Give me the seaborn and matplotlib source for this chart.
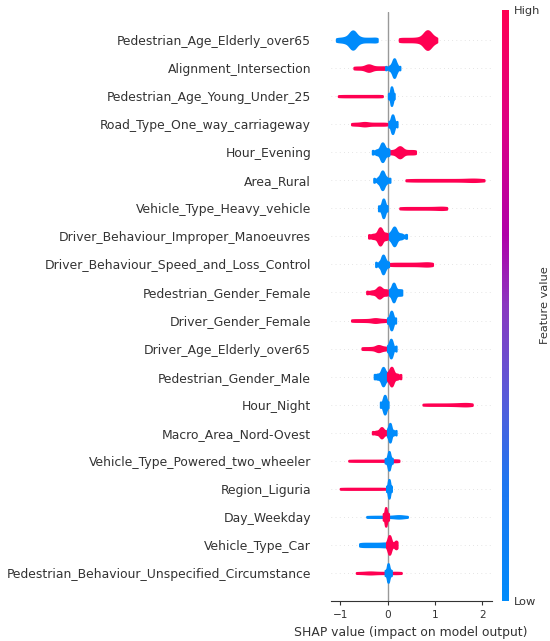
import numpy as np
import pandas as pd
import seaborn as sns
import matplotlib.pyplot as plt
from matplotlib.collections import PolyCollection
from matplotlib.colors import LinearSegmentedColormap, Normalize
from matplotlib.cm import ScalarMappable

# Features, top to bottom
features = [
    "Pedestrian_Age_Elderly_over65",
    "Alignment_Intersection",
    "Pedestrian_Age_Young_Under_25",
    "Road_Type_One_way_carriageway",
    "Hour_Evening",
    "Area_Rural",
    "Vehicle_Type_Heavy_vehicle",
    "Driver_Behaviour_Improper_Manoeuvres",
    "Driver_Behaviour_Speed_and_Loss_Control",
    "Pedestrian_Gender_Female",
    "Driver_Gender_Female",
    "Driver_Age_Elderly_over65",
    "Pedestrian_Gender_Male",
    "Hour_Night",
    "Macro_Area_Nord-Ovest",
    "Vehicle_Type_Powered_two_wheeler",
    "Region_Liguria",
    "Day_Weekday",
    "Vehicle_Type_Car",
    "Pedestrian_Behaviour_Unspecified_Circumstance",
]

# SHAP values, for low (=0) feature values
shap_low = [
    [-1.08, -1.02, -0.96, -0.91, -0.87, -0.84, -0.81, -0.79, -0.77, -0.76, -0.75, -0.74, -0.74,
     -0.73, -0.73, -0.72, -0.71, -0.7, -0.68, -0.66, -0.63, -0.6, -0.56, -0.5, -0.44, -0.38,
     -0.32, -0.26, -0.22],
    [-0.04, 0.04, 0.08, 0.1, 0.12, 0.13, 0.14, 0.14, 0.15, 0.16, 0.18, 0.2, 0.26],
    [0.02, 0.05, 0.07, 0.08, 0.08, 0.09, 0.1, 0.11, 0.14],
    [0.03, 0.07, 0.09, 0.1, 0.11, 0.12, 0.14, 0.2],
    [-0.32, -0.24, -0.19, -0.15, -0.13, -0.12, -0.11, -0.1, -0.09, -0.07, -0.04, 0.0, 0.03],
    [-0.29, -0.2, -0.16, -0.13, -0.12, -0.11, -0.1, -0.09, -0.06, -0.02, 0.05],
    [-0.19, -0.14, -0.11, -0.1, -0.09, -0.08, -0.07, -0.05, -0.01],
    [0.04, 0.08, 0.11, 0.13, 0.14, 0.15, 0.16, 0.19, 0.24, 0.3, 0.4],
    [-0.25, -0.17, -0.13, -0.11, -0.1, -0.09, -0.08, -0.06, -0.03, 0.02],
    [0.04, 0.08, 0.11, 0.12, 0.13, 0.14, 0.16, 0.2, 0.25, 0.3],
    [0.0, 0.04, 0.06, 0.07, 0.08, 0.09, 0.1, 0.12, 0.17],
    [0.0, 0.03, 0.05, 0.06, 0.07, 0.08, 0.09, 0.11, 0.18],
    [-0.28, -0.22, -0.17, -0.13, -0.11, -0.1, -0.09, -0.08, -0.06, -0.03, 0.0],
    [-0.15, -0.1, -0.08, -0.07, -0.06, -0.05, -0.04, -0.02, 0.01],
    [0.0, 0.02, 0.04, 0.05, 0.05, 0.06, 0.08, 0.12, 0.18],
    [-0.05, -0.01, 0.01, 0.02, 0.03, 0.03, 0.04, 0.05, 0.07, 0.1],
    [-0.02, 0.01, 0.02, 0.03, 0.03, 0.04, 0.05, 0.08],
    [-0.44, -0.37, -0.3, -0.24, -0.18, -0.12, -0.06, 0.0, 0.06, 0.12, 0.16, 0.19, 0.22, 0.24,
     0.26, 0.28, 0.31, 0.36, 0.42],
    [-0.59, -0.52, -0.45, -0.38, -0.31, -0.24, -0.17, -0.1, -0.04, 0.0],
    [-0.05, -0.02, 0.0, 0.01, 0.01, 0.02, 0.03, 0.05, 0.08],
]

# SHAP values for high (=1) feature values
shap_high = [
    [0.25, 0.33, 0.41, 0.49, 0.57, 0.64, 0.7, 0.74, 0.77, 0.79, 0.81, 0.82, 0.83, 0.84, 0.85,
     0.86, 0.87, 0.88, 0.9, 0.92, 0.95, 0.99, 1.04],
    [-0.71, -0.64, -0.57, -0.5, -0.46, -0.43, -0.41, -0.4, -0.39, -0.37, -0.34, -0.3, -0.24,
     -0.18, -0.12, -0.06, -0.01],
    [-1.04, -0.98, -0.92, -0.86, -0.8, -0.74, -0.68, -0.62, -0.56, -0.5, -0.44, -0.38, -0.32,
     -0.26, -0.2, -0.15, -0.11],
    [-0.76, -0.7, -0.64, -0.58, -0.53, -0.5, -0.48, -0.46, -0.42, -0.36, -0.3, -0.24, -0.18,
     -0.12, -0.06, -0.01],
    [0.0, 0.08, 0.15, 0.2, 0.23, 0.25, 0.26, 0.27, 0.29, 0.32, 0.38, 0.45, 0.52, 0.59],
    [0.39, 0.47, 0.55, 0.63, 0.71, 0.79, 0.87, 0.95, 1.03, 1.11, 1.19, 1.27, 1.35, 1.43, 1.51,
     1.59, 1.67, 1.73, 1.78, 1.82, 1.86, 1.9, 1.95, 2.04],
    [0.26, 0.33, 0.4, 0.47, 0.54, 0.61, 0.68, 0.75, 0.82, 0.89, 0.96, 1.02, 1.08, 1.13, 1.17,
     1.21, 1.25],
    [-0.4, -0.32, -0.26, -0.21, -0.18, -0.17, -0.16, -0.15, -0.14, -0.12, -0.08, -0.04, 0.0],
    [0.02, 0.09, 0.16, 0.23, 0.3, 0.37, 0.44, 0.51, 0.58, 0.65, 0.71, 0.77, 0.82, 0.86, 0.9, 0.95],
    [-0.44, -0.34, -0.27, -0.22, -0.19, -0.18, -0.17, -0.15, -0.12, -0.08, -0.03, 0.0],
    [-0.76, -0.68, -0.6, -0.52, -0.45, -0.38, -0.32, -0.28, -0.26, -0.24, -0.2, -0.14, -0.08, -0.02],
    [-0.54, -0.46, -0.38, -0.31, -0.25, -0.22, -0.2, -0.19, -0.17, -0.14, -0.1, -0.05, 0.0],
    [0.0, 0.03, 0.05, 0.07, 0.08, 0.09, 0.1, 0.12, 0.16, 0.21, 0.28],
    [0.75, 0.82, 0.89, 0.96, 1.03, 1.1, 1.17, 1.24, 1.31, 1.37, 1.43, 1.48, 1.53, 1.57, 1.61,
     1.65, 1.68, 1.71, 1.74, 1.79],
    [-0.32, -0.25, -0.2, -0.16, -0.14, -0.13, -0.12, -0.11, -0.08, -0.04, 0.0],
    [-0.82, -0.74, -0.66, -0.58, -0.5, -0.42, -0.34, -0.26, -0.18, -0.1, -0.03, 0.04, 0.1, 0.15,
     0.18, 0.2, 0.24],
    [-1.0, -0.93, -0.86, -0.79, -0.72, -0.65, -0.58, -0.51, -0.44, -0.37, -0.3, -0.23, -0.16,
     -0.09, -0.02],
    [-0.09, -0.07, -0.05, -0.04, -0.04, -0.03, -0.02, 0.0, 0.02],
    [-0.02, 0.01, 0.02, 0.03, 0.04, 0.04, 0.05, 0.06, 0.08, 0.12, 0.16, 0.18, 0.2],
    [-0.66, -0.58, -0.5, -0.44, -0.4, -0.37, -0.34, -0.3, -0.24, -0.17, -0.1, -0.03, 0.04, 0.11,
     0.17, 0.22, 0.29],
]

blue = "#008bfb"
red = "#ff0052"
axis_color = "#333333"

rows = []
for f, lo, hi in zip(features, shap_low, shap_high):
    rows += [(f, v, "Low") for v in lo]
    rows += [(f, v, "High") for v in hi]
df = pd.DataFrame(rows, columns=["feature", "shap", "value"])

sns.set_style("white")
plt.rcParams["font.family"] = "DejaVu Sans"

fig = plt.figure(figsize=(5.5, 6.41), dpi=100)
ax = fig.add_axes([0.601, 0.0624, 0.2927, 0.9189])

for i in range(len(features)):
    ax.axhline(i, color="#cccccc", lw=0.5, dashes=(1, 5), zorder=-1)
ax.axvline(0, color="#999999", lw=1, zorder=-1)

# one call per feature so each row is normalised on its own (like shap)
for f, lo, hi in zip(features, shap_low, shap_high):
    sub = df[df["feature"] == f]
    # wider spread first, so the compact blob ends up on top
    order = ["Low", "High"] if np.ptp(lo) >= np.ptp(hi) else ["High", "Low"]
    sns.violinplot(
        data=sub, x="shap", y="feature", hue="value",
        order=features, hue_order=order,
        palette={"Low": blue, "High": red},
        dodge=False, density_norm="area", common_norm=True,
        cut=0, bw_adjust=0.5, gridsize=200, inner=None,
        linewidth=0, saturation=1, width=0.66, legend=False, ax=ax,
    )

# give the violins an outline in their own colour, so thin tails stay visible
for coll in ax.collections:
    if isinstance(coll, PolyCollection):
        coll.set_edgecolor(coll.get_facecolor())
        coll.set_linewidth(1.6)

ax.set_xlim(-1.205, 2.2)
ax.set_ylim(len(features), -1)
ax.set_yticks(range(len(features)))
ax.set_yticklabels(features)
ax.set_xticks([-1, 0, 1, 2])
ax.set_ylabel("")
ax.set_xlabel("SHAP value (impact on model output)", fontsize=8.9, color=axis_color)
ax.tick_params(axis="y", length=0, pad=14, labelsize=8.9, labelcolor=axis_color)
ax.tick_params(axis="x", bottom=True, length=3, width=0.8, labelsize=7.6,
               color=axis_color, labelcolor=axis_color)
for side in ["top", "right", "left"]:
    ax.spines[side].set_visible(False)
ax.spines["bottom"].set_color(axis_color)

# colour bar for feature value
cmap = LinearSegmentedColormap.from_list(
    "shap_red_blue",
    [(0.0, "#008bfb"), (0.2, "#1f76f0"), (0.35, "#5a5ad8"), (0.5, "#8a38c0"),
     (0.62, "#b000a8"), (0.8, "#dc0085"), (1.0, "#ff0052")],
)
cax = fig.add_axes([0.912, 0.0624, 0.0133, 0.922])
sm = ScalarMappable(norm=Normalize(0, 1), cmap=cmap)
cb = fig.colorbar(sm, cax=cax, ticks=[0, 1])
cb.set_ticklabels(["Low", "High"])
cb.ax.tick_params(labelsize=8.2, length=0, labelcolor=axis_color)
cb.outline.set_visible(False)
cb.set_label("Feature value", size=8.2, labelpad=0, color=axis_color)

fig.savefig("out.png", dpi=100)
